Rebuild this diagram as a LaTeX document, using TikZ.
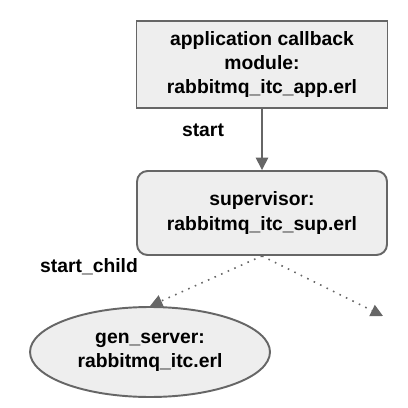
\documentclass[tikz,border=0pt]{standalone}
\usepackage{fontspec}
\setmainfont{Liberation Sans}
\usepackage{tikz}
\usetikzlibrary{arrows.meta,shapes.geometric}
\definecolor{boxfill}{HTML}{EEEEEE}
\definecolor{boxline}{HTML}{666666}
\begin{document}
\begin{tikzpicture}[x=0.02cm,y=-0.02cm,
  every node/.style={font=\fontsize{11}{13.5}\selectfont\bfseries,align=center},
  box/.style={draw=boxline,fill=boxfill,line width=1.1pt,inner sep=0pt},
  flow/.style={draw=boxline,line width=0.9pt,-{Triangle[width=7pt,length=7pt]}},
  spawn/.style={flow,dash pattern=on 0.9pt off 3.2pt}]
\useasboundingbox (0,0) rectangle (407,408);
\node[box,minimum width=5.02cm,minimum height=1.74cm] (app) at (262,64.5) {application callback\\module:\\rabbitmq\_itc\_app.erl};
\node[box,rounded corners=6pt,minimum width=5cm,minimum height=1.68cm] (sup) at (262,213) {supervisor:\\[1pt]rabbitmq\_itc\_sup.erl};
\node[box,ellipse,minimum width=4.8cm,minimum height=1.8cm] (srv) at (150,352) {gen\_server:\\rabbitmq\_itc.erl};
\coordinate (more) at (383,316);
\draw[flow] (app) -- (sup);
\draw[spawn] (sup.south) -- (srv.north);
\draw[spawn] (sup.south) -- (more);
\node at (203,130) {start};
\node at (89,267) {start\_child};
\end{tikzpicture}
\end{document}
